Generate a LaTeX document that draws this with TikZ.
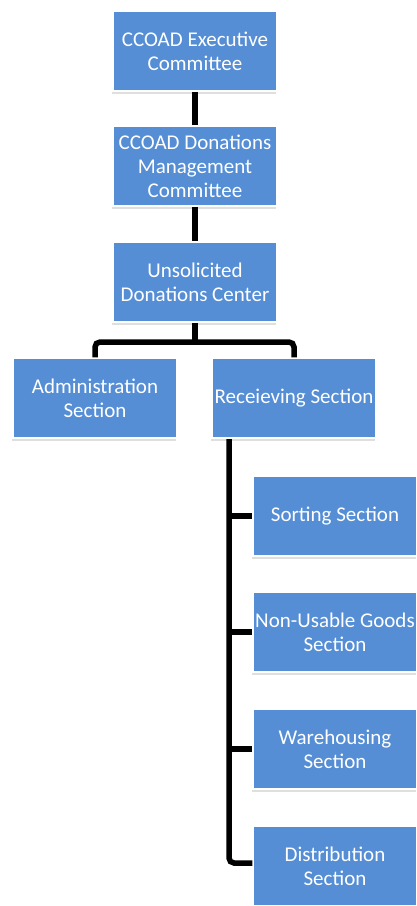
\documentclass[tikz,border=0pt]{standalone}
\usepackage{fontspec}
\setmainfont{Carlito}
\usetikzlibrary{positioning, shadows}
\definecolor{boxblue}{RGB}{85,142,213}

\begin{document}
\begin{tikzpicture}[x=1pt, y=-1pt,
  box/.style = {rectangle, fill=boxblue, draw=white, line width=1.2pt, text=white,
    minimum width=164pt, minimum height=80pt, inner sep=0pt, align=center,
    font=\fontsize{21}{24}\selectfont,
    drop shadow={shadow xshift=-1pt, shadow yshift=-3pt, opacity=0.25}},
  link/.style = {draw=black, line width=5.5pt, rounded corners=5pt}]
\useasboundingbox (0,0) rectangle (417,906);
\node[box] (exe) at (195,51) {CCOAD Executive\\Committee};
\node[box] (dmc) at (195,166) {CCOAD Donations\\Management\\Committee};
\node[box] (udc) at (195,282) {Unsolicited\\Donations Center};
\node[box] (adm) at (95,398) {Administration\\Section};
\node[box] (rcv) at (294,398) {Receieving Section};
\node[box] (srt) at (335,516) {Sorting Section};
\node[box] (nus) at (335,632) {Non-Usable Goods\\Section};
\node[box] (wrh) at (335,749) {Warehousing\\Section};
\node[box] (dst) at (335,866) {Distribution\\Section};
\coordinate (bus) at (195,342);
\coordinate (spine) at (229,439);
\draw[link] (exe.south) -- (dmc.north);
\draw[link] (dmc.south) -- (udc.north);
\draw[link] (udc.south) -- (bus);
\draw[link] (adm.north) |- (bus) -| (rcv.north);
\draw[link] (spine) |- ([yshift=3pt]dst.west);
\foreach \n in {srt, nus, wrh}
  \draw[link] (spine |- \n.west) -- (\n.west);
\end{tikzpicture}
\end{document}
